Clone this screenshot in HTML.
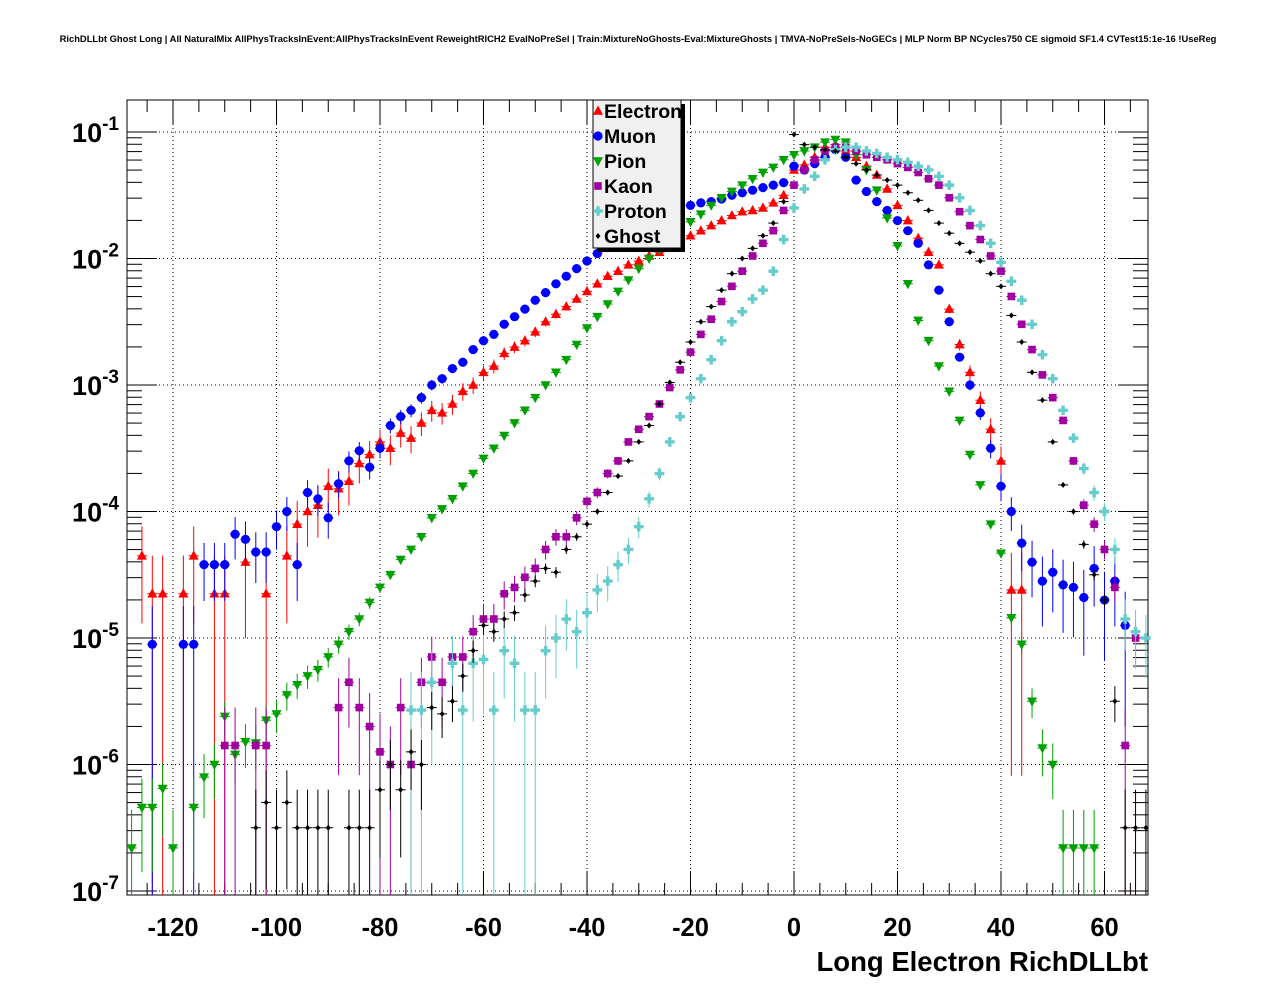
<!DOCTYPE html>
<html><head><meta charset="utf-8">
<style>
html,body{margin:0;padding:0;background:#fff;}
svg{display:block;font-family:"Liberation Sans",Arial,sans-serif;}
</style></head>
<body>
<svg id="chart" width="1276" height="996" viewBox="0 0 1276 996" xmlns="http://www.w3.org/2000/svg">
<rect x="0" y="0" width="1276" height="996" fill="#fff"/>
<text x="638" y="42" font-size="9.4" font-weight="bold" text-anchor="middle">RichDLLbt Ghost Long | All NaturalMix AllPhysTracksInEvent:AllPhysTracksInEvent ReweightRICH2 EvalNoPreSel | Train:MixtureNoGhosts-Eval:MixtureGhosts | TMVA-NoPreSels-NoGECs | MLP Norm BP NCycles750 CE sigmoid SF1.4 CVTest15:1e-16 !UseReg</text>
<g id="grid"></g>
<g id="axes"></g>
<g id="marks"></g>
<g id="legend"></g>
<text x="1148" y="971" font-size="27.5" font-weight="bold" text-anchor="end">Long Electron RichDLLbt</text>
</svg>
<script>
const xTicks = [-120,-100,-80,-60,-40,-20,0,20,40,60];
const yDecades = [-1,-2,-3,-4,-5,-6,-7];
const seriesNames = ["Electron","Muon","Pion","Kaon","Proton","Ghost"];

const electronStart = -126;
const electronLog = [-4.35,-4.65,-4.65,null,-4.65,-4.35,null,-4.65,-4.65,null,-4.4,null,-4.65,null,-4.35,-4.1,-4.0,-3.95,-3.8,-3.82,-3.76,-3.62,-3.55,-3.45,-3.5,-3.38,-3.42,-3.3,-3.2,-3.22,-3.15,-3.05,-3.0,-2.9,-2.85,-2.75,-2.7,-2.65,-2.58,-2.5,-2.44,-2.38,-2.32,-2.26,-2.2,-2.14,-2.1,-2.05,-2.02,-1.98,-1.95,-1.9,-1.86,-1.82,-1.78,-1.74,-1.7,-1.66,-1.63,-1.62,-1.6,-1.56,-1.5,-1.3,-1.26,-1.2,-1.12,-1.1,-1.15,-1.2,-1.27,-1.34,-1.45,-1.58,-1.7,-1.84,-1.95,-2.05,-2.4,-2.68,-2.9,-3.12,-3.35,-3.6,-4.62,-4.62];

const muonStart = -124;
const muonLog = [-5.05,null,null,-5.05,-5.05,-4.42,-4.42,-4.42,-4.18,-4.22,-4.32,-4.32,-4.12,-4.0,-4.42,-3.85,-3.9,-4.05,-3.78,-3.6,-3.52,-3.65,-3.5,-3.32,-3.25,-3.2,-3.1,-3.0,-2.95,-2.87,-2.82,-2.72,-2.65,-2.6,-2.52,-2.46,-2.4,-2.33,-2.27,-2.2,-2.14,-2.08,-2.02,-1.96,-1.91,-1.86,-1.8,-1.74,-1.7,-1.66,-1.63,-1.6,-1.58,-1.56,-1.55,-1.53,-1.5,-1.48,-1.46,-1.44,-1.42,-1.4,-1.27,-1.3,-1.25,-1.2,-1.14,-1.2,-1.38,-1.47,-1.55,-1.62,-1.7,-1.78,-1.88,-2.05,-2.25,-2.5,-2.78,-3.0,-3.22,-3.5,-3.8,-4.0,-4.25,-4.4,-4.55,-4.48,-4.58,-4.6,-4.68,-4.45,-4.7,-4.55,-4.9];

const pionStart = -128;
const pionLog = [-6.66,-6.34,-6.34,-6.19,-6.66,null,-6.34,-6.1,-6.0,-5.62,-5.92,-5.82,-5.83,-5.65,-5.6,-5.45,-5.37,-5.3,-5.25,-5.15,-5.05,-4.95,-4.85,-4.72,-4.6,-4.5,-4.38,-4.3,-4.2,-4.05,-3.98,-3.9,-3.8,-3.7,-3.58,-3.5,-3.4,-3.3,-3.2,-3.1,-3.0,-2.9,-2.8,-2.68,-2.55,-2.46,-2.36,-2.26,-2.17,-2.08,-2.0,-1.93,-1.85,-1.78,-1.71,-1.65,-1.58,-1.52,-1.47,-1.42,-1.37,-1.32,-1.28,-1.22,-1.18,-1.15,-1.12,-1.08,-1.06,-1.08,-1.18,-1.3,-1.46,-1.68,-1.9,-2.2,-2.49,-2.65,-2.85,-3.05,-3.28,-3.55,-3.79,-4.1,-4.33,-4.84,-5.05,-5.5,-5.87,-6.0,-6.66,-6.66,-6.66,-6.66];

const kaonStart = -110;
const kaonLog = [-5.85,-5.85,null,-5.85,-5.85,null,null,null,null,null,null,-5.55,-5.35,-5.55,-5.7,-5.9,-6.0,-5.55,-6.0,-5.35,-5.15,-5.35,-5.15,-5.15,-4.95,-4.85,-4.85,-4.65,-4.6,-4.52,-4.45,-4.3,-4.2,-4.2,-4.05,-3.92,-3.85,-3.7,-3.6,-3.45,-3.35,-3.25,-3.15,-3.02,-2.88,-2.74,-2.6,-2.48,-2.34,-2.22,-2.1,-1.98,-1.88,-1.78,-1.62,-1.42,-1.3,-1.22,-1.15,-1.12,-1.12,-1.15,-1.18,-1.2,-1.22,-1.25,-1.28,-1.32,-1.37,-1.42,-1.52,-1.63,-1.74,-1.85,-1.98,-2.1,-2.3,-2.52,-2.72,-2.92,-3.1,-3.28,-3.6,-3.95,-4.1,-4.3,-4.6,-5.85,-5.0];

const protonStart = -74;
const protonLog = [-5.57,-5.57,-5.35,null,-5.2,-5.57,-5.2,-5.17,-5.57,-5.1,-5.2,-5.57,-5.57,-5.1,-5.0,-4.85,-4.95,-4.8,-4.62,-4.55,-4.42,-4.3,-4.12,-3.9,-3.7,-3.45,-3.25,-3.1,-2.95,-2.8,-2.65,-2.5,-2.42,-2.32,-2.25,-2.1,-1.85,-1.6,-1.45,-1.35,-1.22,-1.14,-1.12,-1.12,-1.15,-1.17,-1.2,-1.22,-1.24,-1.27,-1.3,-1.35,-1.42,-1.52,-1.62,-1.74,-1.88,-2.03,-2.18,-2.33,-2.52,-2.76,-2.95,-3.2,-3.42,-3.66,-3.85,-4.0,-4.3,-4.85,-4.95,-5.0];

const ghostStart = -104;
const ghostLog = [-6.5,-6.3,-6.5,-6.3,-6.5,-6.5,-6.5,-6.5,null,-6.5,-6.5,-6.5,-6.2,-6.0,-6.2,-5.9,-6.0,-5.55,-5.6,-5.5,-5.3,-5.1,-4.9,-4.95,-4.85,-4.8,-4.66,-4.55,-4.45,-4.48,-4.3,-4.2,-4.1,-4.0,-3.85,-3.72,-3.6,-3.45,-3.32,-3.15,-2.98,-2.82,-2.66,-2.5,-2.38,-2.25,-2.12,-2.0,-1.92,-1.82,-1.72,-1.55,-1.02,-1.1,-1.12,-1.14,-1.15,-1.2,-1.25,-1.3,-1.34,-1.38,-1.42,-1.48,-1.54,-1.62,-1.72,-1.8,-1.88,-1.95,-2.02,-2.12,-2.22,-2.45,-2.66,-2.9,-3.12,-3.45,-3.79,-4.0,-4.26,-4.5,-4.7,-5.5,-6.5,-6.5,-6.5];

const NS = "http://www.w3.org/2000/svg";
const L = 127, R = 1148, T = 100, B = 895;
function xs(v){ return 794 + v * 5.175; }
function ys(lg){ return 132 + (-1 - lg) * 126.5; }
function mk(tag, attrs, parent){ const e = document.createElementNS(NS, tag); for (const k in attrs) e.setAttribute(k, attrs[k]); parent.appendChild(e); return e; }

const grid = document.getElementById('grid');
const axes = document.getElementById('axes');
const marks = document.getElementById('marks');
const legend = document.getElementById('legend');

xTicks.forEach(t => {
  const g = mk('line', {x1: xs(t), x2: xs(t), y1: T, y2: B, stroke: '#000', 'stroke-width': 1, 'stroke-dasharray': '1,3'}, grid);
  
  
});
yDecades.forEach(d => {
  const g = mk('line', {x1: L, x2: R, y1: ys(d), y2: ys(d), stroke: '#000', 'stroke-width': 1, 'stroke-dasharray': '1,3'}, grid);
  
  
});
const fr = mk('rect', {x: L, y: T, width: R - L, height: B - T, fill: 'none', stroke: '#000', 'stroke-width': 1}, axes);


for (let v = -125; v <= 65; v += 5) {
  const major = v % 20 === 0;
  const len = major ? 24 : 12;
  mk('line', {x1: xs(v), x2: xs(v), y1: B, y2: B - len, stroke: '#000'}, axes);
  mk('line', {x1: xs(v), x2: xs(v), y1: T, y2: T + len, stroke: '#000'}, axes);
}
xTicks.forEach(t => {
  const tx = mk('text', {x: xs(t), y: 936, 'font-size': 25.5, 'font-weight': 'bold', 'text-anchor': 'middle'}, axes);
  
  
  tx.textContent = String(t);
});
for (let d = -7; d <= -1; d++) {
  for (let m = 1; m <= 9; m++) {
    const lg = d + Math.log10(m);
    if (lg > -0.747) continue;
    const len = m === 1 ? 30 : 15;
    mk('line', {x1: L, x2: L + len, y1: ys(lg), y2: ys(lg), stroke: '#000'}, axes);
    mk('line', {x1: R, x2: R - len, y1: ys(lg), y2: ys(lg), stroke: '#000'}, axes);
  }
}
yDecades.forEach(d => {
  const tx = mk('text', {x: 119, y: ys(d) + 10, 'font-size': 27, 'font-weight': 'bold', 'text-anchor': 'end'}, axes);
  
  
  tx.innerHTML = '10<tspan dy="-12" font-size="19">' + d + '</tspan>';
});

const colors = ["#ff0000","#0000ff","#00a000","#a000a0","#66cccc","#000000"];
const shapes = ["tri","circ","tridown","sq","cross","diam"];
const starts = [electronStart, muonStart, pionStart, kaonStart, protonStart, ghostStart];
const logs = [electronLog, muonLog, pionLog, kaonLog, protonLog, ghostLog];
const units = [-4.65, -5.05, -6.66, -5.85, -5.57, -6.5];

function marker(shape, cx, cy, col, parent) {
  let e;
  if (shape === 'tri') e = mk('polygon', {points: `${cx},${cy-5.5} ${cx-5},${cy+3.8} ${cx+5},${cy+3.8}`, fill: col}, parent);
  else if (shape === 'tridown') e = mk('polygon', {points: `${cx},${cy+5.5} ${cx-5},${cy-3.8} ${cx+5},${cy-3.8}`, fill: col}, parent);
  else if (shape === 'circ') e = mk('circle', {cx: cx, cy: cy, r: 4.6, fill: col}, parent);
  else if (shape === 'sq') e = mk('rect', {x: cx - 3.8, y: cy - 3.8, width: 7.6, height: 7.6, fill: col}, parent);
  else if (shape === 'cross') e = mk('path', {d: `M${cx-4.8},${cy-1.7}h3.1v-3.1h3.4v3.1h3.1v3.4h-3.1v3.1h-3.4v-3.1h-3.1z`, fill: col}, parent);
  else e = mk('polygon', {points: `${cx},${cy-3} ${cx-2.5},${cy} ${cx},${cy+3} ${cx+2.5},${cy}`, fill: col}, parent);
  return e;
}

logs.forEach((arr, si) => {
  const g = mk('g', {}, marks);
  
  
  const col = colors[si];
  arr.forEach((lg, i) => {
    if (lg === null) return;
    const xv = starts[si] + 2 * i;
    const cx = xs(xv), cy = ys(lg);
    if (cx < L || cx > R) return;
    const N = Math.pow(10, lg - units[si]);
    const r = 1 / Math.sqrt(Math.max(N, 1));
    const v = Math.pow(10, lg);
    const yTop = Math.max(T, ys(Math.log10(v * (1 + r))));
    const lowV = v * (1 - r);
    const yBot = lowV <= 1e-7 * 0.93 ? B : Math.min(B, ys(Math.log10(lowV)));
    mk('line', {x1: cx, x2: cx, y1: yTop, y2: yBot, stroke: col, 'stroke-width': 1}, g);
    mk('line', {x1: Math.max(L, cx - 5), x2: Math.min(R, cx + 5), y1: cy, y2: cy, stroke: col, 'stroke-width': 1}, g);
    const m = marker(shapes[si], cx, cy, col, g);
    
    
  });
});

const sh = mk('rect', {x: 597, y: 104, width: 88, height: 148, fill: '#000'}, legend);


const lb = mk('rect', {x: 593, y: 100, width: 88, height: 148, fill: '#f0f0f0', stroke: '#000', 'stroke-width': 1}, legend);


seriesNames.forEach((n, i) => {
  const y = 111 + i * 25;
  const g = mk('g', {}, legend);
  
  
  marker(shapes[i], 598, y, colors[i], g);
  const t = mk('text', {x: 604, y: y + 7, 'font-size': 19.5, 'font-weight': 'bold'}, g);
  t.textContent = n;
});
</script>
</body></html>
